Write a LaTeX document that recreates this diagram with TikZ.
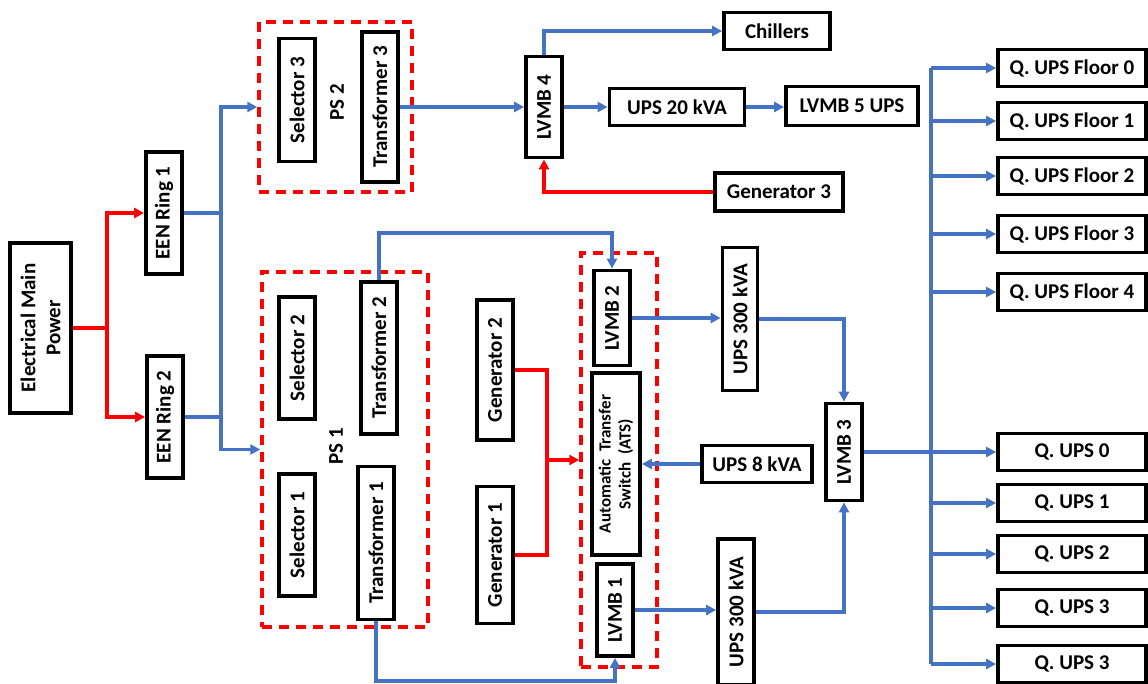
\documentclass[tikz,border=0pt]{standalone}
\usepackage{fontspec}
\setmainfont{Carlito}
\usetikzlibrary{arrows.meta}
\definecolor{lineblue}{HTML}{4472C4}
\definecolor{linered}{HTML}{FF0000}
\begin{document}
\begin{tikzpicture}[x=1pt,y=-1pt,>={Triangle[length=10pt,width=10pt]},font=\fontsize{21}{25}\selectfont\bfseries,
  hbox/.style={draw,line width=3.8pt,inner sep=2pt,minimum height=37pt},
  vbox/.style={hbox,rotate=90,minimum height=36pt},
  psbox/.style={draw=linered,line width=3.5pt,dash pattern=on 10pt off 7pt},
  bl/.style={draw=lineblue,line width=3.3pt},
  rd/.style={draw=linered,line width=3.3pt}]
\useasboundingbox (0,0) rectangle (1148,683);
\node[vbox,minimum width=170pt,minimum height=61pt,align=center] (emp) at (40.5,328) {Electrical Main\\Power};
\node[vbox,minimum width=122pt] (een1) at (164,213) {EEN Ring 1}; \node[vbox,minimum width=122pt] (een2) at (165,417) {EEN Ring 2};
\node[psbox,minimum width=153pt,minimum height=170pt] (ps2) at (335.5,107) {}; \node[psbox,minimum width=166pt,minimum height=355pt] (ps1) at (345,449.5) {};
\node[psbox,minimum width=76pt,minimum height=414pt] (atsg) at (619,460) {};
\node[vbox,minimum width=123pt] (sel3) at (297,100) {Selector 3}; \node[vbox,minimum width=150pt] (tr3) at (380,107) {Transformer 3};
\node[rotate=90] (ps2l) at (337,102) {PS 2};
\node[vbox,minimum width=122pt] (sel2) at (297,358) {Selector 2}; \node[vbox,minimum width=152pt] (tr2) at (379,358) {Transformer 2};
\node[vbox,minimum width=122pt] (sel1) at (297,535) {Selector 1}; \node[vbox,minimum width=153pt] (tr1) at (376,543) {Transformer 1};
\node[rotate=90] (ps1l) at (336,446) {PS 1};
\node[vbox,minimum width=140pt] (gen2) at (495,370) {Generator 2}; \node[vbox,minimum width=137pt] (gen1) at (495,555) {Generator 1};
\node[vbox,minimum width=101pt] (lv4) at (544,107) {LVMB 4};
\node[vbox,minimum width=95pt] (lv2) at (612,318) {LVMB 2}; \node[vbox,minimum width=92pt] (lv1) at (615,610) {LVMB 1};
\node[vbox,minimum width=182pt,minimum height=48pt,align=center,font=\fontsize{17}{20}\selectfont\bfseries] (ats) at (616,464) {Automatic\ \ Transfer\\Switch\ \ (ATS)};
\node[vbox,minimum width=143pt,minimum height=35pt] (u300a) at (740,319) {UPS 300 kVA}; \node[vbox,minimum width=146pt] (u300b) at (736,612) {UPS 300 kVA};
\node[vbox,minimum width=97pt] (lv3) at (844,452) {LVMB 3};
\node[hbox,minimum width=106pt] (chill) at (777,31) {Chillers}; \node[hbox,minimum width=135pt] (ups20) at (677,107) {UPS 20 kVA};
\node[hbox,minimum width=132pt,minimum height=39pt] (lv5) at (852,106) {LVMB 5 UPS}; \node[hbox,minimum width=128pt,minimum height=38pt] (gen3) at (779,192) {Generator 3};
\node[hbox,minimum width=110pt] (ups8) at (757,464) {UPS 8 kVA};
\foreach \n/\y in {0/68,1/121,2/176,3/234,4/292} \node[hbox,minimum width=148pt] (qf\n) at (1072,\y) {Q. UPS Floor \n};
\foreach \n/\y/\t in {0/452/0,1/503/1,2/554/2,3/608/3,4/664/3} \node[hbox,minimum width=148pt] (qu\n) at (1072,\y) {Q. UPS \t};
\coordinate (rj) at (107,0); \coordinate (bj) at (221,0); \coordinate (gj) at (547,0); \coordinate (top2) at (0,233); \coordinate (bot1) at (0,681); \coordinate (rbus) at (931,0);
\draw[rd,->] (emp.south) -- (emp.south -| rj) |- (een1.north); \draw[rd,->] (emp.south -| rj) |- (een2.north);
\draw[bl,->] (een1.south) -- (een1.south -| bj) |- (ps2.west); \draw[bl,->] (een2.south) -- (een2.south -| bj) |- (ps1.west); \draw[bl] (een1.south -| bj) -- (een2.south -| bj);
\draw[bl,->] (tr3.south) -- (lv4.north); \draw[bl,->] (lv4.east) |- (chill.west); \draw[bl,->] (lv4.south) -- (ups20.west);
\draw[bl,->] (ups20.east) -- (ups20.east -| lv5.west); \draw[rd,->] (gen3.west) -| (lv4.west);
\draw[bl,->] (tr2.east) -- (tr2.east |- top2) -| (lv2.east); \draw[bl,->] (tr1.west) -- (tr1.west |- bot1) -| (lv1.west);
\draw[rd] (gen2.south) -- (gen2.south -| gj) -- (gen1.south -| gj) -- (gen1.south); \draw[rd,->] (atsg.west -| gj) -- (atsg.west);
\draw[bl,->] (ups8.west) -- (ats.south);
\draw[bl,->] (lv2.south) -- (lv2.south -| u300a.north); \draw[bl,->] (u300a.south) -| (lv3.east);
\draw[bl,->] (lv1.south) -- (lv1.south -| u300b.north); \draw[bl,->] (u300b.south) -| (lv3.west);
\draw[bl,line width=4pt] (lv3.south) -- (lv3.south -| rbus); \draw[bl,->] (lv3.south -| rbus) -- (qu0.west);
\draw[bl] (qf0.west -| rbus) -- (qu4.west -| rbus);
\foreach \n in {0,...,4} \draw[bl,->] (qf\n.west -| rbus) -- (qf\n.west);
\foreach \n in {1,...,4} \draw[bl,->] (qu\n.west -| rbus) -- (qu\n.west);
\end{tikzpicture}
\end{document}
